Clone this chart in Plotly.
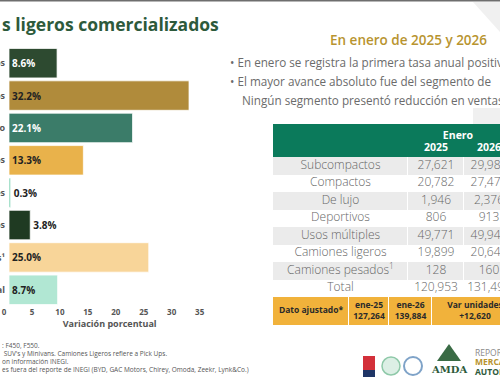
import plotly.graph_objects as go

W, H = 500, 383

# ---------------- data ----------------
categories = ["Subcompactos", "Compactos", "De lujo", "Deportivos", "Usos múltiples",
              "Camiones ligeros", "Camiones pesados¹", "Total"]
variation = [8.6, 32.2, 22.1, 13.3, 0.3, 3.8, 25.0, 8.7]
x_ticks = [0, 5, 10, 15, 20, 25, 30, 35]

table_rows = ["Subcompactos", "Compactos", "De lujo", "Deportivos", "Usos múltiples",
              "Camiones ligeros", "Camiones pesados<sup>1</sup>", "Total"]
years = ["2025", "2026"]
sales_2025 = [27621, 20782, 1946, 806, 49771, 19899, 128, 120953]
sales_2026 = [29983, 27474, 2376, 913, 49943, 20645, 160, 131494]

adj_title = "Dato ajustado*"
adj_labels = ["ene-25", "ene-26", "Var unidades"]
adj_values = ["127,264", "139,884", "+12,620"]

title_text = "s ligeros comercializados"
subtitle_text = "En enero de 2025 y 2026"
bullets = ["• En enero se registra la primera tasa anual positiva",
           "• El mayor avance absoluto fue del segmento de",
           "Ningún segmento presentó reducción en ventas"]
footnotes = [": F450, F550.",
             " SUV's y Minivans. Camiones Ligeros refiere a Pick Ups.",
             "on información INEGI.",
             "es fuera del reporte de INEGI (BYD, GAC Motors, Chirey, Omoda, Zeekr, Lynk&Co.)"]

# ---------------- styles / layout constants ----------------
FONT = "Open Sans"
bar_colors = ["#2d4a30", "#b08b3b", "#3b7c69", "#e9b24b", "#74cfae", "#1f3a22", "#f8d599", "#b1e7d3"]
label_colors = ["#ffffff", "#222222", "#ffffff", "#222222", "#222222", "#222222", "#222222", "#222222"]
label_positions = ["inside"] * 4 + ["outside"] * 2 + ["inside"] * 2
GREEN = "#0b7a5b"
ORANGE = "#f1b23b"
GRAY_ROW = "#ebebeb"

# table geometry (pixel-like units of the table axes)
col_edges = [0, 135, 191, 241]
header_h, row_h = 33, 17.5
row_edges = [header_h + row_h * i for i in range(len(table_rows) + 1)]
adj_col_edges = [0, 76, 116, 159, 245]
adj_row_edges = [row_edges[-1], row_edges[-1] + 28]
TABLE_X0, TABLE_Y0 = 273, 124


def px(x):
    return x / W


def py(y):
    return 1 - y / H


def mid(edges, i):
    return (edges[i] + edges[i + 1]) / 2


def note(x, y, text, size, color, anchor="left", weight=None, family=FONT):
    f = dict(family=family, size=size, color=color)
    if weight is not None:
        f["weight"] = weight
    return dict(x=px(x), y=py(y), xref="paper", yref="paper", text=text, showarrow=False,
                xanchor=anchor, yanchor="middle", font=f)


fig = go.Figure()

# ---------------- bar chart ----------------
fig.add_trace(go.Bar(
    y=categories, x=variation, orientation="h",
    marker=dict(color=bar_colors, line=dict(color="rgba(255,255,255,0.75)", width=1)),
    text=[f"{v:.1f}%" for v in variation],
    textposition=label_positions, insidetextanchor="start",
    textfont=dict(family=FONT, size=10, color=label_colors, weight="bold"),
    outsidetextfont=dict(family=FONT, size=10, color="#222222", weight="bold"),
    cliponaxis=False, hoverinfo="skip", showlegend=False,
))

# ---------------- table (drawn on its own axes) ----------------
tbl = dict(xaxis="x2", yaxis="y2", hoverinfo="skip", showlegend=False)

# header background
fig.add_trace(go.Heatmap(x=[col_edges[0], col_edges[-1] + 40], y=[0, header_h], z=[[0]],
                         colorscale=[[0, GREEN], [1, GREEN]], showscale=False, **tbl))
# body backgrounds (alternating rows)
body_z = [[i % 2] * (len(col_edges) - 1) for i in range(len(table_rows))]
fig.add_trace(go.Heatmap(x=col_edges[:-1] + [col_edges[-1] + 40], y=row_edges, z=body_z,
                         colorscale=[[0, GRAY_ROW], [1, "#ffffff"]], zmin=0, zmax=1,
                         xgap=1, ygap=0, showscale=False, **tbl))
# adjusted-data row background
fig.add_trace(go.Heatmap(x=adj_col_edges, y=adj_row_edges, z=[[0] * (len(adj_col_edges) - 1)],
                         colorscale=[[0, ORANGE], [1, ORANGE]], xgap=1, showscale=False, **tbl))

row_centres = [mid(row_edges, i) for i in range(len(table_rows))]
body_font = dict(family=FONT, size=12, color="#666666", weight=300)

fig.add_trace(go.Scatter(x=[mid(col_edges, 0)] * len(table_rows), y=row_centres, text=table_rows,
                         mode="text", textfont=body_font, **tbl))
fig.add_trace(go.Scatter(x=[mid(col_edges, 1)] * len(table_rows), y=row_centres,
                         text=[f"{v:,}" for v in sales_2025], mode="text", textfont=body_font, **tbl))
fig.add_trace(go.Scatter(x=[mid(col_edges, 2)] * len(table_rows), y=row_centres,
                         text=[f"{v:,}" for v in sales_2026], mode="text", textfont=body_font, **tbl))
# header texts
fig.add_trace(go.Scatter(x=[(col_edges[1] + col_edges[3]) / 2 - 3, mid(col_edges, 1), mid(col_edges, 2)],
                         y=[12, 24, 24], text=["<b>Enero</b>"] + [f"<b>{y}</b>" for y in years],
                         mode="text", textfont=dict(family=FONT, size=10.5, color="white"), **tbl))
# adjusted row texts
fig.add_trace(go.Scatter(x=[mid(adj_col_edges, i) for i in range(4)],
                         y=[mid(adj_row_edges, 0)] * 4,
                         text=[f"<b>{adj_title}</b>"] + [f"<b>{l}</b><br><b>{v}</b>" for l, v in zip(adj_labels, adj_values)],
                         mode="text", textfont=dict(family=FONT, size=8.5, color="#2a2a2a"), **tbl))

# ---------------- texts & decorations ----------------
annotations = [
    note(0, 24, f"<b>{title_text}</b>", 17.5, "#2d5a3b"),
    note(408, 40, subtitle_text, 13.5, "#b8942f", anchor="center", weight=600),
    note(449, 369, "<b>AMDA</b>", 10, "#2d5a3b", anchor="center", family="DejaVu Serif"),
]
for i, (t, x0) in enumerate(zip(bullets, [228, 228, 240])):
    annotations.append(note(x0, 62 + 19 * i, t, 11.7, "#6b6b6b"))
for i, t in enumerate(footnotes):
    annotations.append(note(0, 345 + 8 * i, t, 6.5, "#555555"))
for i, (t, c, wgt) in enumerate([("REPORTE", "#8a8a8a", 400), ("MERCADO", "#b8942f", 700),
                                 ("AUTOMOTRIZ", "#2d5a3b", 700)]):
    annotations.append(note(473, 352 + 9.5 * i, t, 8.5, c, weight=wgt))

shapes = [
    dict(type="rect", xref="paper", yref="paper", x0=0, x1=1, y0=py(1.5), y1=1,
         fillcolor="#6e6e6e", line_width=0, layer="above"),
    dict(type="path", xref="paper", yref="paper",
         path=f"M {px(473)} {py(2)} L 1 {py(2)} L 1 {py(32)} Z",
         fillcolor="#f0f0f0", line_width=0, layer="below"),
    dict(type="rect", xref="paper", yref="paper", x0=px(473), x1=1, y0=py(124), y1=py(108),
         fillcolor="#f0f0f0", line_width=0, layer="below"),
    # logos (simplified)
    dict(type="rect", xref="paper", yref="paper", x0=px(363), x1=px(375), y0=py(377), y1=py(356),
         fillcolor="#d3303a", line_width=0),
    dict(type="rect", xref="paper", yref="paper", x0=px(363), x1=px(375), y0=py(377), y1=py(370),
         fillcolor="#1f3566", line_width=0),
    dict(type="circle", xref="paper", yref="paper", x0=px(382), x1=px(400), y0=py(375), y1=py(357),
         fillcolor="#dcefe5", line=dict(color="#8fc9a9", width=1.5)),
    dict(type="circle", xref="paper", yref="paper", x0=px(404), x1=px(422), y0=py(375), y1=py(357),
         fillcolor="#ffffff", line=dict(color="#7fa3c8", width=2)),
    dict(type="path", xref="paper", yref="paper",
         path=f"M {px(449)} {py(344)} L {px(461)} {py(361)} L {px(437)} {py(361)} Z",
         fillcolor="#3a6b45", line_width=0),
]

table_w = W - TABLE_X0
table_h = adj_row_edges[-1]

fig.update_layout(
    width=W, height=H, margin=dict(l=0, r=0, t=0, b=0, autoexpand=False),
    paper_bgcolor="white", plot_bgcolor="white",
    font=dict(family=FONT, color="#555555"),
    bargap=0.09,
    xaxis=dict(domain=[px(9), px(9 + 36 * 5.59)], range=[0, 36], tickvals=x_ticks,
               showgrid=False, zeroline=False, showline=False, ticks="",
               tickfont=dict(family=FONT, size=8, color="#555555", weight="bold"),
               ticklabelshift=-5, automargin=False, fixedrange=True,
               title=dict(text="<b>Variación porcentual</b>", standoff=4,
                          font=dict(family=FONT, size=9, color="#555555"))),
    yaxis=dict(domain=[py(306), py(47)], autorange="reversed", showgrid=False,
               zeroline=False, showline=False, ticks="", automargin=False, fixedrange=True,
               ticklabelstandoff=3,
               tickfont=dict(family=FONT, size=9, color="#555555", weight="bold")),
    xaxis2=dict(domain=[px(TABLE_X0), 1], range=[0, table_w], visible=False,
                anchor="y2", fixedrange=True),
    yaxis2=dict(domain=[py(TABLE_Y0 + table_h), py(TABLE_Y0)], range=[table_h, 0], visible=False,
                anchor="x2", fixedrange=True),
    annotations=annotations, shapes=shapes,
)

fig.write_html("out.html", config={"displayModeBar": False},
               post_script="document.body.style.margin='0';")
